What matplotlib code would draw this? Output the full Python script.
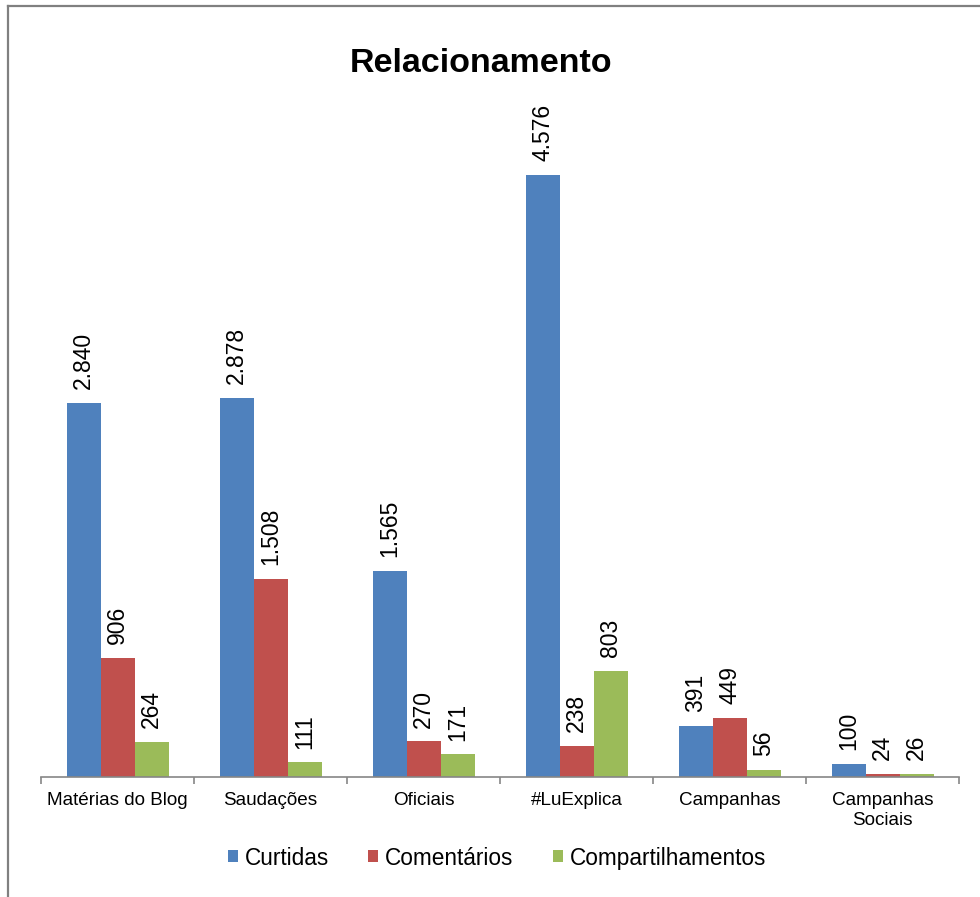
import matplotlib.pyplot as plt
import numpy as np
from matplotlib.lines import Line2D

plt.rcParams['font.family'] = ['Liberation Sans', 'DejaVu Sans']

categories = ['Matérias do Blog', 'Saudações', 'Oficiais', '#LuExplica', 'Campanhas', 'Campanhas\nSociais']
series_names = ['Curtidas', 'Comentários', 'Compartilhamentos']
curtidas = [2840, 2878, 1565, 4576, 391, 100]
comentarios = [906, 1508, 270, 238, 449, 24]
compartilhamentos = [264, 111, 171, 803, 56, 26]
colors = ['#4F81BD', '#C0504D', '#9BBB59']

W, H = 980, 897
fig = plt.figure(figsize=(W / 100, H / 100), dpi=100)

# outer chart border (only top and left edges fall inside the image)
fig.add_artist(Line2D([7.5 / W, 7.5 / W], [0, 1 - 6 / H], color='#808080', lw=1.6, transform=fig.transFigure))
fig.add_artist(Line2D([7.5 / W, 1], [1 - 6 / H, 1 - 6 / H], color='#808080', lw=1.6, transform=fig.transFigure))

ax = fig.add_axes([41 / W, (H - 777) / H, (959 - 41) / W, (777 - 119) / H])

x = np.arange(len(categories))
bw = 1 / 4.5
for i, vals in enumerate([curtidas, comentarios, compartilhamentos]):
    pos = x + (i - 1) * bw
    ax.bar(pos, vals, width=bw, color=colors[i], label=series_names[i], zorder=2)
    for xp, v in zip(pos, vals):
        txt = f'{v:,}'.replace(',', '.')
        ax.annotate(txt, (xp, v), xytext=(0, 10), textcoords='offset points',
                    rotation=90, ha='center', va='bottom', fontsize=16.5)

ax.set_xlim(-0.5, len(categories) - 0.5)
ax.set_ylim(0, 5000)

for s in ['top', 'right', 'left']:
    ax.spines[s].set_visible(False)
ax.spines['bottom'].set_color('#868686')
ax.spines['bottom'].set_linewidth(1.2)
ax.set_yticks([])

ax.set_xticks(np.arange(len(categories) + 1) - 0.5)
ax.set_xticklabels([])
ax.tick_params(axis='x', which='major', direction='out', length=5, color='#868686', width=1.2)
ax.set_xticks(x, minor=True)
ax.set_xticklabels(categories, minor=True, fontsize=13.6)
ax.tick_params(axis='x', which='minor', length=0, pad=11)

fig.text(481 / W, 1 - 63 / H, 'Relacionamento', ha='center', va='center',
         fontsize=24.5, fontweight='bold')

fig.legend(loc='center', bbox_to_anchor=(497 / W, 1 - 858 / H), ncol=3, frameon=False,
           fontsize=16.3, handlelength=0.44, handleheight=0.44, handletextpad=0.3,
           columnspacing=1.75)

fig.savefig('out.png', dpi=100, facecolor='white')
